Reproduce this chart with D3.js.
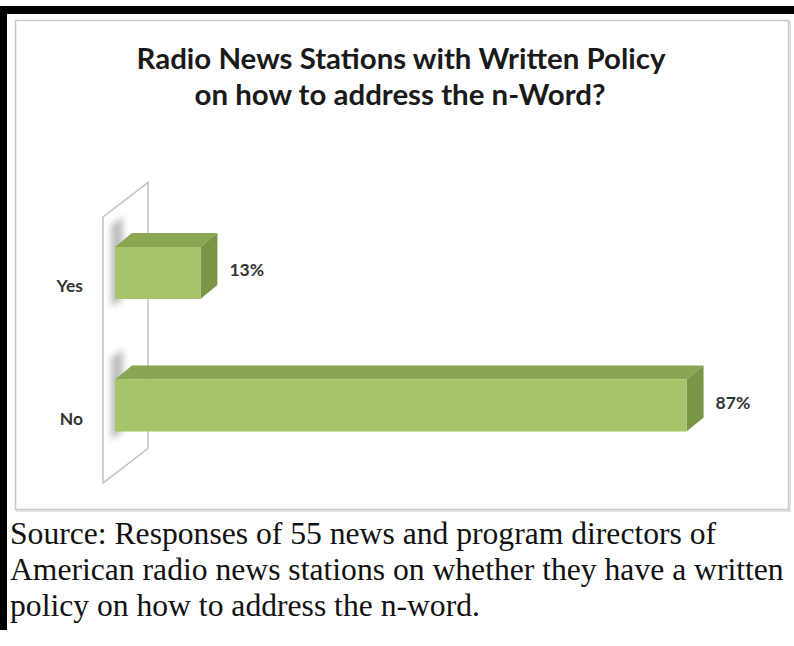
<!DOCTYPE html>
<html>
<head>
<meta charset="utf-8">
<script src="https://cdn.jsdelivr.net/npm/d3@7"></script>
<style>
  html, body { margin: 0; padding: 0; background: #ffffff; }
  svg { display: block; }
</style>
</head>
<body>
<svg id="chart" width="794" height="646"></svg>
<script>
// ---- data ----
const categories = ["Yes", "No"];
const values = [13, 87];
const valueLabels = ["13%", "87%"];
const titleLines = ["Radio News Stations with Written Policy", "on how to address the n-Word?"];
const sourceLines = [
  "Source: Responses of 55 news and program directors of",
  "American radio news stations on whether they have a written",
  "policy on how to address the n-word."
];

// ---- layout ----
const svg = d3.select("#chart");
const W = 794, H = 646;

// black frame fragments
svg.append("rect").attr("x", 0).attr("y", 6).attr("width", W).attr("height", 8).attr("fill", "#000");
svg.append("rect").attr("x", 0).attr("y", 6).attr("width", 7).attr("height", 624).attr("fill", "#000");

// chart box with soft shadow
const defs = svg.append("defs");
const blur = defs.append("filter").attr("id", "blur").attr("x", "-50%").attr("y", "-50%").attr("width", "200%").attr("height", "200%");
blur.append("feGaussianBlur").attr("stdDeviation", 3);

svg.append("rect").attr("x", 17).attr("y", 22).attr("width", 773).attr("height", 489)
  .attr("fill", "none").attr("stroke", "#e4e4e4").attr("stroke-width", 2);
svg.append("rect").attr("x", 15.5).attr("y", 20.5).attr("width", 773).attr("height", 489)
  .attr("fill", "#fff").attr("stroke", "#c9c9c9").attr("stroke-width", 1.5);

// title
const titleFont = "Lato, 'Open Sans', sans-serif";
const titleG = svg.append("g");
const t1 = titleG.append("text").text(titleLines[0])
  .attr("x", 401).attr("y", 69).attr("text-anchor", "middle")
  .attr("font-family", titleFont).attr("font-weight", 700).attr("font-size", 25).attr("fill", "#1a1a1a");
const w1 = t1.node().getComputedTextLength();
const fsTitle = 25 * 529 / w1;
t1.attr("font-size", fsTitle);
titleG.append("text").text(titleLines[1])
  .attr("x", 400).attr("y", 105).attr("text-anchor", "middle")
  .attr("font-family", titleFont).attr("font-weight", 700).attr("font-size", fsTitle).attr("fill", "#1a1a1a");

// scales
const x = d3.scaleLinear().domain([0, 100]).range([115, 772]);
const y = d3.scaleBand().domain(categories).range([207.25, 471.25]).paddingInner(0.6075).paddingOuter(0.3);

const depthX = 17, depthY = -14;

// side wall (3D back plane)
const wallX0 = x(0) - 12, wallX1 = wallX0 + 45;
const wallTop = 217, wallBot = 483, wallDy = -34.5;
svg.append("path")
  .attr("d", `M${wallX0},${wallTop} L${wallX1},${wallTop + wallDy} L${wallX1},${wallBot + wallDy} L${wallX0},${wallBot} Z`)
  .attr("fill", "#ffffff").attr("stroke", "#bdbdbd").attr("stroke-width", 1.4);

// bars
const bars = svg.append("g");
categories.forEach((c, i) => {
  const x0 = x(0), x1 = x(values[i]);
  const yt = y(c), yb = y(c) + y.bandwidth();
  // shadow on wall
  bars.append("path")
    .attr("d", `M${x0 - 4},${yt - 22} L${x0 + 8},${yt - 30} L${x0 + 8},${yb} L${x0 - 4},${yb + 8} Z`)
    .attr("fill", "#8a8a8a").attr("opacity", 0.55).attr("filter", "url(#blur)");
  // top face
  bars.append("path")
    .attr("d", `M${x0},${yt} L${x0 + depthX},${yt + depthY} L${x1 + depthX},${yt + depthY} L${x1},${yt} Z`)
    .attr("fill", "#8ba653");
  // side face
  bars.append("path")
    .attr("d", `M${x1},${yt} L${x1 + depthX},${yt + depthY} L${x1 + depthX},${yb + depthY} L${x1},${yb} Z`)
    .attr("fill", "#7b9546");
  // front face
  bars.append("rect")
    .attr("x", x0).attr("y", yt).attr("width", x1 - x0).attr("height", y.bandwidth())
    .attr("fill", "#a7c46b");
  // value label
  bars.append("text").text(valueLabels[i])
    .attr("x", x1 + 29).attr("y", yt + y.bandwidth() / 2 - 1)
    .attr("dominant-baseline", "middle")
    .attr("font-family", titleFont).attr("font-weight", 700).attr("font-size", 17.5).attr("fill", "#333");
  // category label
  bars.append("text").text(c)
    .attr("x", 83).attr("y", yt + y.bandwidth() / 2 + 15)
    .attr("text-anchor", "end").attr("dominant-baseline", "middle")
    .attr("font-family", titleFont).attr("font-weight", 700).attr("font-size", 17.5).attr("fill", "#333");
});

// source text
const srcFont = "'Liberation Serif', 'DejaVu Serif', serif";
const srcBase = [544, 580, 616];
const probe = svg.append("text").text(sourceLines[1])
  .attr("font-family", srcFont).attr("font-size", 28);
const fsSrc = 28 * 774 / probe.node().getComputedTextLength();
probe.remove();
sourceLines.forEach((s, i) => {
  svg.append("text").text(s)
    .attr("x", 10).attr("y", srcBase[i])
    .attr("font-family", srcFont).attr("font-size", fsSrc).attr("fill", "#111");
});
</script>
</body>
</html>
